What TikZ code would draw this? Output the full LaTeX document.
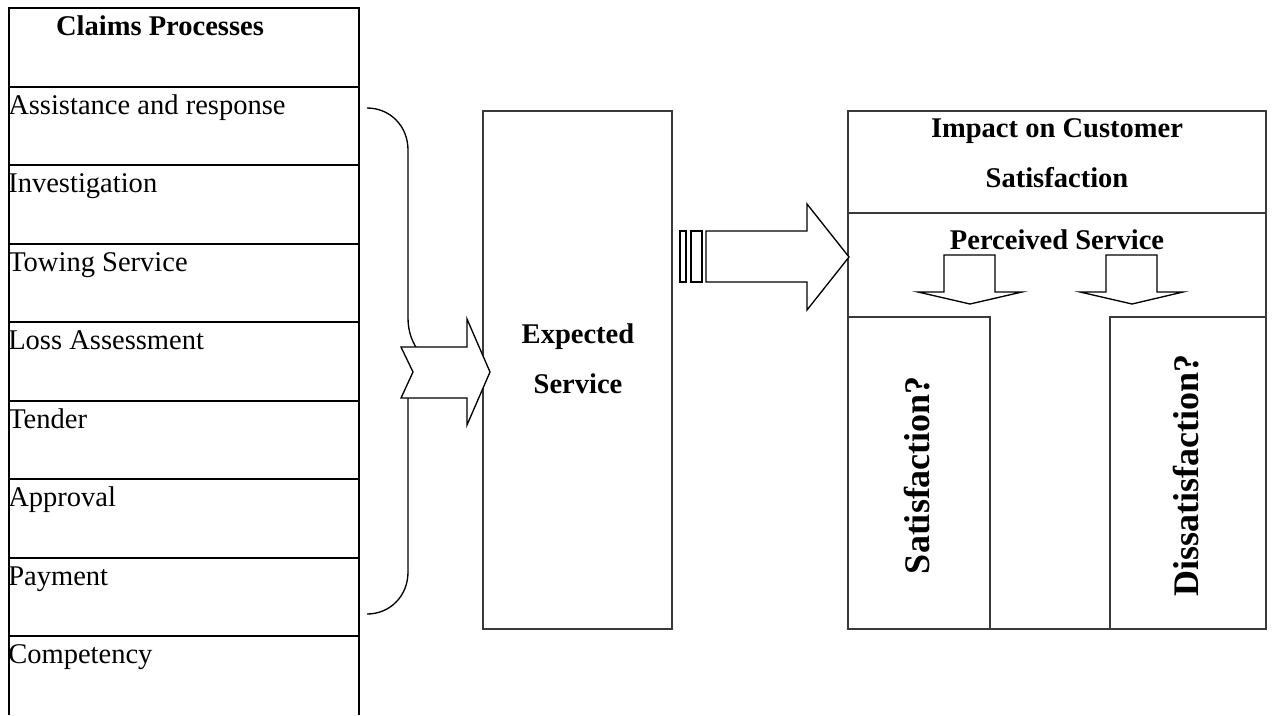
\documentclass[tikz,border=0pt]{standalone}
\usepackage{fontspec}
\setmainfont{Liberation Serif}
\definecolor{boxgray}{HTML}{3A3A3A}
\tikzset{
  tbl/.style={draw=black, line width=1.5pt},
  box/.style={draw=boxgray, line width=1.1pt, fill=white},
  blockarrow/.style={draw=black, line width=1pt, fill=white, line join=miter},
  bracestyle/.style={draw=black, line width=1pt},
  rowtxt/.style={font=\fontsize{21.4pt}{25pt}\selectfont, inner sep=0pt, anchor=base west},
  headtxt/.style={font=\fontsize{21.4pt}{25pt}\selectfont\bfseries, inner sep=0pt, anchor=base},
  bigtxt/.style={font=\fontsize{27pt}{30pt}\selectfont\bfseries, inner sep=0pt, rotate=90}
}
\begin{document}
\begin{tikzpicture}[x=0.75pt, y=-0.75pt]
\useasboundingbox (0,0) rectangle (1274,715);

% ---- left table ----
\draw[tbl] (9,715) -- (9,8) -- (359,8) -- (359,715);
\foreach \yy in {87,165,244,322,401,479,558,636}
  \draw[tbl] (9,\yy) -- (359,\yy);
\node[headtxt] (hd) at (160,35) {Claims Processes};
\node[rowtxt] (r1) at (8,114) {Assistance and response};
\node[rowtxt] (r2) at (8,192) {Investigation};
\node[rowtxt] (r3) at (8,271) {Towing Service};
\node[rowtxt] (r4) at (8,349) {Loss Assessment};
\node[rowtxt] (r5) at (8,428) {Tender};
\node[rowtxt] (r6) at (8,506) {Approval};
\node[rowtxt] (r7) at (8,585) {Payment};
\node[rowtxt] (r8) at (8,663) {Competency};

% ---- brace ----
\draw[bracestyle] (367,108) .. controls (390,108) and (408,126) .. (408,150)
  -- (408,318) .. controls (408,345) and (425,365) .. (450,372)
  .. controls (425,378) and (408,385) .. (408,398)
  -- (408,572) .. controls (408,596) and (390,614) .. (367,614);

% ---- expected service box ----
\draw[box] (483,111) rectangle (672,629);
\node[headtxt] (exp1) at (578,343) {Expected};
\node[headtxt] (exp2) at (578,393) {Service};

% ---- chevron arrow ----
\draw[blockarrow] (401,347) -- (467,347) -- (467,319) -- (490,372) -- (467,425)
  -- (467,398) -- (401,398) -- (413,372) -- cycle;

% ---- right box ----
\draw[box] (848,111) rectangle (1266,629);
\draw[box] (848,213) -- (1266,213);
\node[headtxt] (imp1) at (1057,137) {Impact on Customer};
\node[headtxt] (imp2) at (1057,187) {Satisfaction};
\node[headtxt] (perc) at (1057,249) {Perceived Service};
\draw[box] (848,317) rectangle (990,629);
\draw[box] (1110,317) rectangle (1266,629);
\node[bigtxt] (sat) at (917,475) {Satisfaction?};
\node[bigtxt] (dis) at (1186,475) {Dissatisfaction?};

% ---- striped arrow ----
\draw[blockarrow] (680,231) rectangle (686,282);
\draw[blockarrow] (691,231) rectangle (702,282);
\draw[blockarrow] (706,231) -- (807,231) -- (807,204) -- (849,257) -- (807,310)
  -- (807,282) -- (706,282) -- cycle;

% ---- down arrows ----
\draw[blockarrow] (944,255) -- (995,255) -- (995,292) -- (1022,292) -- (970,304)
  -- (918,292) -- (944,292) -- cycle;
\draw[blockarrow] (1106,255) -- (1157,255) -- (1157,292) -- (1183,292) -- (1132,304)
  -- (1080,292) -- (1106,292) -- cycle;
\end{tikzpicture}
\end{document}
